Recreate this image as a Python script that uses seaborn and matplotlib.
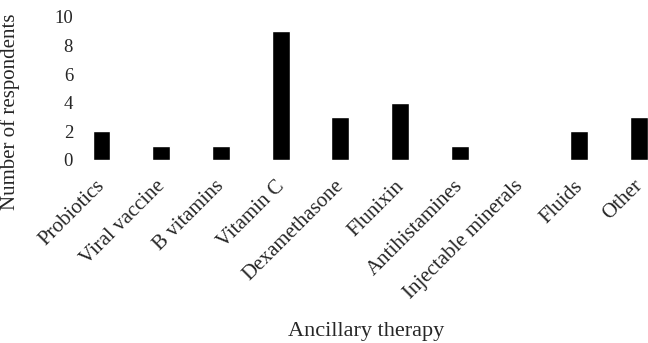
import matplotlib
matplotlib.use("Agg")
import matplotlib.pyplot as plt
import matplotlib.transforms as mtransforms
import seaborn as sns
import pandas as pd

categories = ["Probiotics", "Viral vaccine", "B vitamins", "Vitamin C", "Dexamethasone",
              "Flunixin", "Antihistamines", "Injectable minerals", "Fluids", "Other"]
respondents = [2, 1, 1, 9, 3, 4, 1, 0, 2, 3]

df = pd.DataFrame({"therapy": categories, "n": respondents})

sns.set_theme(style="white")
plt.rcParams['font.family'] = ['Liberation Serif', 'DejaVu Serif']

fig = plt.figure(figsize=(6.48, 3.43), dpi=100)
ax = fig.add_axes([80/648, (343-160)/343, 1 - 80/648, (160-17)/343])
sns.barplot(data=df, x="therapy", y="n", color="black", width=0.3, ax=ax,
            saturation=1)
ax.set_ylim(0, 10)
ax.set_xlim(-0.36, 9.15)
ax.set_yticks([0, 2, 4, 6, 8, 10])
for s in ax.spines.values():
    s.set_visible(False)
ax.tick_params(axis='y', labelsize=13.5, pad=5, length=0)
ax.tick_params(axis='x', labelsize=15, length=0, pad=12)
offset = mtransforms.ScaledTranslation(-6/100, 0, fig.dpi_scale_trans)
for lbl in ax.get_xticklabels():
    lbl.set_rotation(45)
    lbl.set_ha('right')
    lbl.set_rotation_mode('anchor')
    lbl.set_transform(lbl.get_transform() + offset)
ax.set_xlabel("Ancillary therapy", fontsize=16)
ax.set_ylabel("Number of respondents", fontsize=15)
ax.xaxis.set_label_coords(0.503, -1.2)
ax.xaxis.label.set_va('center')
ax.yaxis.set_label_coords(-0.106, 0.34)
fig.savefig("out.png", dpi=100)
